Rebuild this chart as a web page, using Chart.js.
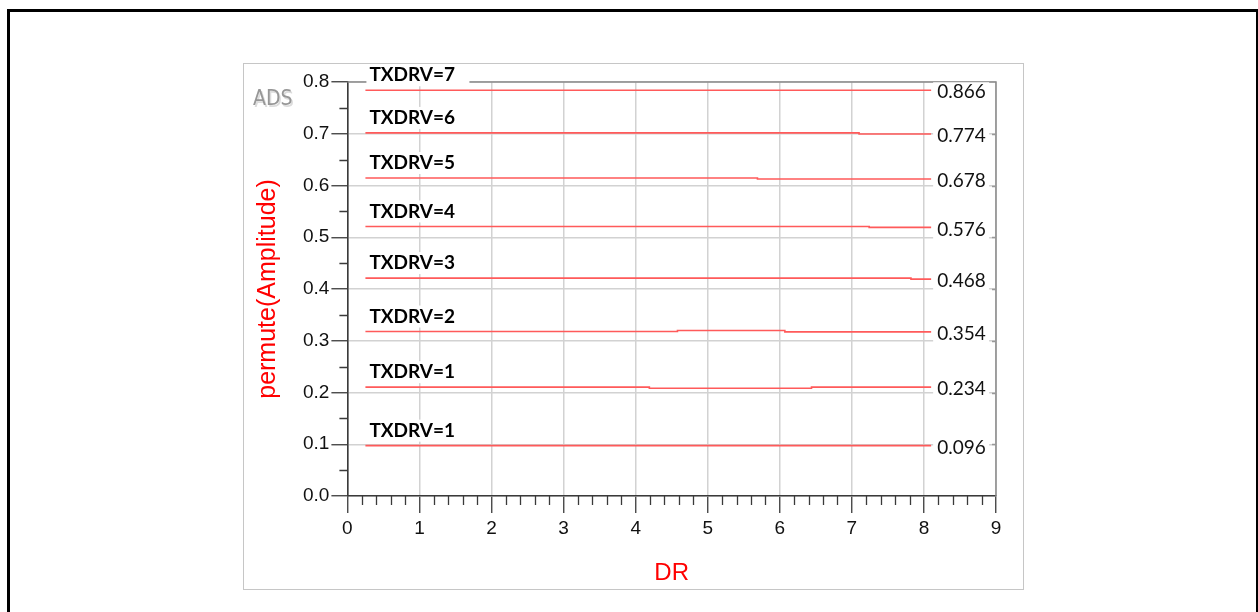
<!DOCTYPE html>
<html>
<head>
<meta charset="utf-8">
<script src="https://cdn.jsdelivr.net/npm/chart.js@4.4.1/dist/chart.umd.min.js"></script>
<style>
  html, body { margin: 0; padding: 0; background: #fff; overflow: hidden; }
  canvas { display: block; }
</style>
</head>
<body>
<canvas id="chart" width="1258" height="612"></canvas>
<script>
// names of the traces, top to bottom
const traceNames = ['TXDRV=7', 'TXDRV=6', 'TXDRV=5', 'TXDRV=4', 'TXDRV=3', 'TXDRV=2', 'TXDRV=1', 'TXDRV=1'];
// the numbers written at the right end of each trace
const endLabels = ['0.866', '0.774', '0.678', '0.576', '0.468', '0.354', '0.234', '0.096'];

// DR breakpoints and amplitude (left axis) for each trace
const drTx7 = [0.25, 8.1];
const ampTx7 = [0.784, 0.784];
const drTx6 = [0.25, 7.1, 8.1];
const ampTx6 = [0.7016, 0.6996, 0.6996];
const drTx5 = [0.25, 5.69, 8.1];
const ampTx5 = [0.6145, 0.6126, 0.6126];
const drTx4 = [0.25, 7.24, 8.1];
const ampTx4 = [0.5209, 0.519, 0.519];
const drTx3 = [0.25, 7.82, 8.1];
const ampTx3 = [0.4211, 0.4191, 0.4191];
const drTx2 = [0.25, 4.58, 6.07, 8.1];
const ampTx2 = [0.3178, 0.3197, 0.3172, 0.3172];
const drTx1 = [0.25, 4.19, 6.44, 8.1];
const ampTx1 = [0.2103, 0.2083, 0.2103, 0.2103];
const drTx0 = [0.25, 8.1];
const ampTx0 = [0.0973, 0.0973];

const xTicks = [0, 1, 2, 3, 4, 5, 6, 7, 8, 9];
const yTicks = [0, 0.1, 0.2, 0.3, 0.4, 0.5, 0.6, 0.7, 0.8];

const traces = [
  [drTx7, ampTx7], [drTx6, ampTx6], [drTx5, ampTx5], [drTx4, ampTx4],
  [drTx3, ampTx3], [drTx2, ampTx2], [drTx1, ampTx1], [drTx0, ampTx0]
];

const AXIS_FONT = 'Liberation Sans, Arial, sans-serif';
const LABEL_FONT = 'Lato, Open Sans, sans-serif';

// frame, outer box and the ADS mark
const backdrop = {
  id: 'backdrop',
  beforeDraw(chart) {
    const ctx = chart.ctx;
    ctx.save();
    ctx.fillStyle = '#fff';
    ctx.fillRect(0, 0, chart.width, chart.height);

    ctx.strokeStyle = '#000';
    ctx.lineWidth = 3;
    ctx.beginPath();
    ctx.moveTo(8.5, chart.height + 5);
    ctx.lineTo(8.5, 10.5);
    ctx.lineTo(1257.5, 10.5);
    ctx.lineTo(1257.5, chart.height + 5);
    ctx.stroke();

    ctx.strokeStyle = '#c6c6c6';
    ctx.lineWidth = 1;
    ctx.strokeRect(243.5, 63.5, 780, 526);

    ctx.font = '21px "Liberation Sans Narrow", "DejaVu Sans Condensed", sans-serif';
    ctx.textBaseline = 'middle';
    ctx.fillStyle = '#dcdcdc';
    ctx.fillText('ADS', 254.5, 101.5);
    ctx.fillStyle = '#979797';
    ctx.fillText('ADS', 253, 100);
    ctx.restore();
  }
};

// plot border, minor ticks and the text labels
const overlay = {
  id: 'overlay',
  afterDraw(chart) {
    const ctx = chart.ctx;
    const area = chart.chartArea;
    const xs = chart.scales.x;
    const ys = chart.scales.y;
    ctx.save();

    ctx.strokeStyle = '#8a8a8a';
    ctx.lineWidth = 1.5;
    ctx.beginPath();
    ctx.moveTo(area.left, area.top);
    ctx.lineTo(area.right, area.top);
    ctx.lineTo(area.right, area.bottom);
    ctx.stroke();

    ctx.strokeStyle = '#3a3a3a';
    ctx.lineWidth = 1.3;
    ctx.beginPath();
    for (let i = 0; i < yTicks.length - 1; i++) {
      const y = Math.round(ys.getPixelForValue((yTicks[i] + yTicks[i + 1]) / 2)) + 0.5;
      ctx.moveTo(area.left - 8, y);
      ctx.lineTo(area.left, y);
    }
    for (let i = 0; i < xTicks.length - 1; i++) {
      for (let k = 1; k < 5; k++) {
        const x = Math.round(xs.getPixelForValue(xTicks[i] + k / 5)) + 0.5;
        ctx.moveTo(x, area.bottom);
        ctx.lineTo(x, area.bottom + 9);
      }
    }
    ctx.stroke();

    ctx.strokeStyle = '#999';
    ctx.beginPath();
    for (let i = 1; i < yTicks.length - 1; i++) {
      const y = Math.round(ys.getPixelForValue(yTicks[i])) + 0.5;
      ctx.moveTo(area.right - 4, y);
      ctx.lineTo(area.right, y);
    }
    ctx.stroke();

    ctx.textBaseline = 'middle';
    chart.data.datasets.forEach((ds, i) => {
      const pts = chart.getDatasetMeta(i).data;
      const first = pts[0];
      const last = pts[pts.length - 1];

      const ty = first.y - 15;
      ctx.fillStyle = '#fff';
      ctx.fillRect(first.x + 1, ty - 11, 103, 22);
      ctx.fillStyle = '#000';
      ctx.font = 'bold 19px ' + LABEL_FONT;
      ctx.fillText(traceNames[i], first.x + 4, ty);

      const ry = last.y + 2;
      ctx.fillStyle = '#fff';
      ctx.fillRect(last.x + 2, ry - 10, 56, 20);
      ctx.fillStyle = '#111';
      ctx.font = '19px ' + LABEL_FONT;
      ctx.fillText(endLabels[i], last.x + 6, ry);
    });
    ctx.restore();
  }
};

const datasets = traces.map(([dr, amp], i) => ({
  label: traceNames[i],
  data: dr.map((d, j) => ({ x: d, y: amp[j] })),
  borderColor: '#ff5a5a',
  borderWidth: 1.6,
  pointRadius: 0,
  stepped: true,
  fill: false
}));

new Chart(document.getElementById('chart'), {
  type: 'line',
  data: { datasets },
  options: {
    responsive: false,
    animation: false,
    devicePixelRatio: 1,
    layout: { padding: { left: 253.6, top: 82, right: 262, bottom: 24.6 } },
    plugins: {
      legend: { display: false },
      tooltip: { enabled: false }
    },
    scales: {
      x: {
        type: 'linear',
        min: xTicks[0],
        max: xTicks[xTicks.length - 1],
        afterBuildTicks(scale) { scale.ticks = xTicks.map(v => ({ value: v })); },
        ticks: {
          color: '#111',
          font: { family: AXIS_FONT, size: 19 },
          padding: 4,
          maxRotation: 0,
          callback: v => String(v)
        },
        grid: { color: '#d2d2d2', lineWidth: 1.5, tickColor: '#3a3a3a', tickWidth: 1.3, tickLength: 17 },
        border: { color: '#3a3a3a', width: 1.6 },
        title: { display: true, text: 'DR', color: '#ff0000', font: { family: AXIS_FONT, size: 24 }, padding: 0 },
        afterFit(scale) { scale.height = 91.4; }
      },
      y: {
        type: 'linear',
        min: yTicks[0],
        max: yTicks[yTicks.length - 1],
        afterBuildTicks(scale) { scale.ticks = yTicks.map(v => ({ value: v })); },
        ticks: {
          color: '#111',
          font: { family: AXIS_FONT, size: 19 },
          padding: 2,
          callback: v => Number(v).toFixed(1)
        },
        grid: { color: '#d2d2d2', lineWidth: 1.5, tickColor: '#3a3a3a', tickWidth: 1.3, tickLength: 16 },
        border: { color: '#3a3a3a', width: 1.6 },
        title: { display: true, text: 'permute(Amplitude)', color: '#ff0000', font: { family: AXIS_FONT, size: 25 }, padding: 0 },
        afterFit(scale) { scale.width = 93.8; }
      }
    }
  },
  plugins: [backdrop, overlay]
});
</script>
</body>
</html>
